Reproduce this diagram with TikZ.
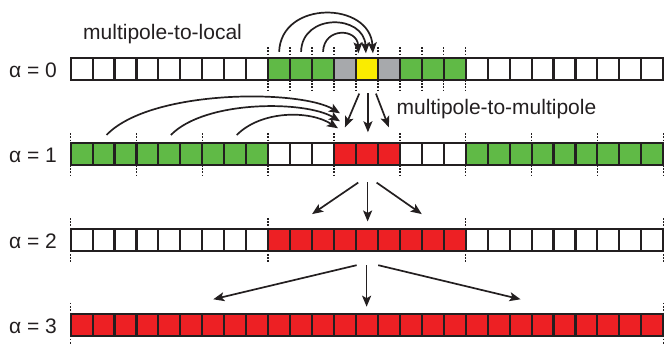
\documentclass[tikz,border=0pt]{standalone}
\usepackage{fontspec}
\setmainfont{Liberation Sans}
\usetikzlibrary{arrows.meta}

\definecolor{boxline}{RGB}{35,31,32}
\definecolor{cgreen}{RGB}{96,186,70}
\definecolor{cred}{RGB}{237,32,36}
\definecolor{cyellow}{RGB}{250,236,0}
\definecolor{cgrey}{RGB}{167,169,172}

\tikzset{
  cell/.style={draw=boxline, line width=2.1pt, minimum width=21.95pt,
               minimum height=21.8pt, inner sep=0pt, outer sep=0pt},
  wcell/.style={cell, fill=white},
  gcell/.style={cell, fill=cgreen},
  rcell/.style={cell, fill=cred},
  ycell/.style={cell, fill=cyellow},
  kcell/.style={cell, fill=cgrey},
  lbl/.style={font=\fontsize{21}{25}\selectfont, text=boxline, inner sep=0pt},
  arr/.style={draw=boxline, line width=1.7pt,
              -{Stealth[length=11pt,width=9pt,inset=2.5pt]}},
  dotline/.style={draw=boxline, line width=1.4pt, dash pattern=on 1.5pt off 1.7pt}
}

\begin{document}
\begin{tikzpicture}[x=1pt,y=-1pt]
\useasboundingbox (0,0) rectangle (664,344);

% level 0: one yellow target box, grey neighbours, green interaction list
\foreach \s [count=\i from 0] in {wcell,wcell,wcell,wcell,wcell,wcell,wcell,wcell,wcell,
    gcell,gcell,gcell,kcell,ycell,kcell,gcell,gcell,gcell,
    wcell,wcell,wcell,wcell,wcell,wcell,wcell,wcell,wcell}
  \node[\s] (r0c\i) at ({70.6+(\i+0.5)*21.95},69.2) {};

% level 1
\foreach \s [count=\i from 0] in {gcell,gcell,gcell,gcell,gcell,gcell,gcell,gcell,gcell,
    wcell,wcell,wcell,rcell,rcell,rcell,wcell,wcell,wcell,
    gcell,gcell,gcell,gcell,gcell,gcell,gcell,gcell,gcell}
  \node[\s] (r1c\i) at ({70.6+(\i+0.5)*21.95},154.2) {};

% level 2
\foreach \s [count=\i from 0] in {wcell,wcell,wcell,wcell,wcell,wcell,wcell,wcell,wcell,
    rcell,rcell,rcell,rcell,rcell,rcell,rcell,rcell,rcell,
    wcell,wcell,wcell,wcell,wcell,wcell,wcell,wcell,wcell}
  \node[\s] (r2c\i) at ({70.6+(\i+0.5)*21.95},240) {};

% level 3
\foreach \i in {0,...,26}
  \node[rcell] (r3c\i) at ({70.6+(\i+0.5)*21.95},324.9) {};

% dotted box boundaries
\foreach \i in {9,...,18}
  \draw[dotline] ([yshift=11pt]r0c\i.north west) -- (r0c\i.north west)
                 (r0c\i.south west) -- ([yshift=-11pt]r0c\i.south west);
\foreach \i in {0,3,...,24}
  \draw[dotline] ([yshift=10pt]r1c\i.north west) -- (r1c\i.north west)
                 (r1c\i.south west) -- ([yshift=-11pt]r1c\i.south west);
\draw[dotline] ([yshift=10pt]r1c26.north east) -- (r1c26.north east)
               (r1c26.south east) -- ([yshift=-11pt]r1c26.south east);
\foreach \i in {0,9,18}
  \draw[dotline] ([yshift=11pt]r2c\i.north west) -- (r2c\i.north west)
                 (r2c\i.south west) -- ([yshift=-11pt]r2c\i.south west);
\draw[dotline] ([yshift=11pt]r2c26.north east) -- (r2c26.north east)
               (r2c26.south east) -- ([yshift=-11pt]r2c26.south east);
\draw[dotline] ([yshift=11pt]r3c0.north west) -- (r3c0.north west)
               (r3c0.south west) -- ([yshift=-11pt]r3c0.south west);
\draw[dotline] ([yshift=11pt]r3c26.north east) -- (r3c26.north east)
               (r3c26.south east) -- ([yshift=-11pt]r3c26.south east);

% level labels
\node[lbl, anchor=base east] (a0) at (57,77.7) {α = 0};
\node[lbl, anchor=base east] (a1) at (57,162.8) {α = 1};
\node[lbl, anchor=base east] (a2) at (57,248.5) {α = 2};
\node[lbl, anchor=base east] (a3) at (57,333.4) {α = 3};

% operator labels
\node[lbl, anchor=base west] (m2l) at (83,40) {multipole-to-local};
\node[lbl, anchor=base west] (m2m) at (396.5,115) {multipole-to-multipole};

% multipole-to-local at level 0
\draw[arr] ([yshift=6.5pt]r0c9.north) .. controls +(2,-52) and +(-3,-52) ..
           ([xshift=6pt,yshift=5pt]r0c13.north);
\draw[arr] ([yshift=6.5pt]r0c10.north) .. controls +(1,-39) and +(-2,-39) ..
           ([xshift=-1pt,yshift=5pt]r0c13.north);
\draw[arr] ([yshift=6.5pt]r0c11.north) .. controls +(1,-25) and +(-1,-25) ..
           ([xshift=-8.5pt,yshift=5pt]r0c13.north);

% multipole-to-local at level 1
\draw[arr] ([xshift=3pt,yshift=8.3pt]r1c1.north) .. controls +(44,-46) and +(-40,-24) ..
           ([xshift=6pt,yshift=30pt]r1c12.north west);
\draw[arr] ([xshift=1.5pt,yshift=8.3pt]r1c4.north) .. controls +(34,-35) and +(-35,-21) ..
           ([xshift=6pt,yshift=22pt]r1c12.north west);
\draw[arr] ([xshift=1.5pt,yshift=8.3pt]r1c7.north) .. controls +(25,-25) and +(-28,-18) ..
           ([xshift=4pt,yshift=15pt]r1c12.north west);

% level 0 -> level 1
\draw[arr] ([xshift=-7.7pt,yshift=-13.5pt]r0c13.south) -- ([yshift=16pt]r1c12.north);
\draw[arr] ([xshift=1pt,yshift=-13pt]r0c13.south) -- ([xshift=1pt,yshift=11pt]r1c13.north);
\draw[arr] ([xshift=9pt,yshift=-13.5pt]r0c13.south) -- ([yshift=16pt]r1c14.north);

% level 1 -> level 2
\draw[arr] ([xshift=-8.7pt,yshift=-17.5pt]r1c13.south) -- ([yshift=15pt]r2c11.north west);
\draw[arr] ([xshift=0.7pt,yshift=-17pt]r1c13.south) -- ([xshift=0.7pt,yshift=7.6pt]r2c13.north);
\draw[arr] ([xshift=9.7pt,yshift=-17.5pt]r1c13.south) -- ([yshift=15pt]r2c16.north west);

% level 2 -> level 3
\draw[arr] ([xshift=-10.3pt,yshift=-14.3pt]r2c13.south) -- ([yshift=14.7pt]r3c6.north);
\draw[arr] ([xshift=-0.3pt,yshift=-14.3pt]r2c13.south) -- ([xshift=-0.3pt,yshift=7.3pt]r3c13.north);
\draw[arr] ([xshift=11.3pt,yshift=-14.3pt]r2c13.south) -- ([yshift=14.7pt]r3c20.north);
\end{tikzpicture}
\end{document}
